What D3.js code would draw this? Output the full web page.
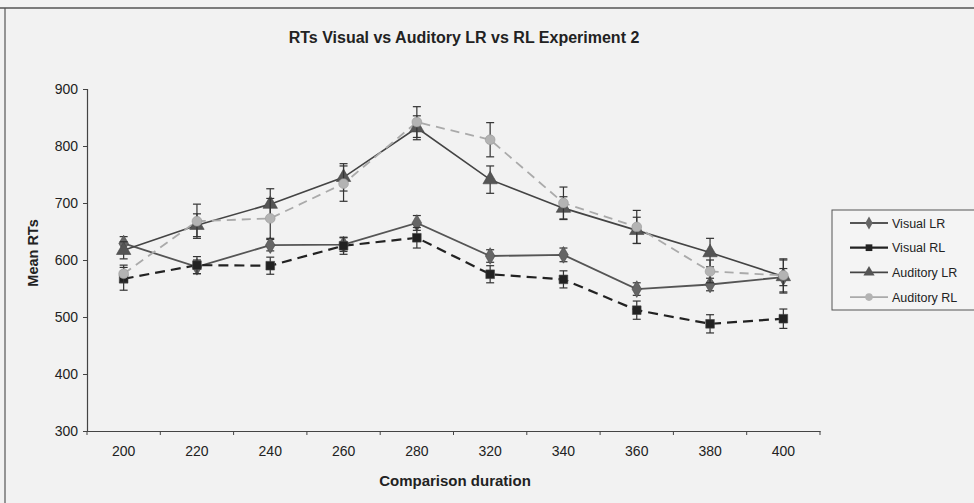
<!DOCTYPE html>
<html><head><meta charset="utf-8">
<script src="https://cdn.jsdelivr.net/npm/d3@7"></script>
<style>body{margin:0;background:#f2f2f2;} svg{display:block;font-family:Arial,"Liberation Sans",sans-serif;}</style>
</head><body><svg id="c" width="974" height="503"></svg>
<script>
const categories = ["200","220","240","260","280","320","340","360","380","400"];
const seriesNames = ["Visual LR","Visual RL","Auditory LR","Auditory RL"];
const visualLR   = [629, 588, 626, 627, 665, 607, 609, 549, 557, 570];
const visualRL   = [567, 591, 590, 625, 639, 575, 566, 512, 488, 497];
const auditoryLR = [617, 661, 698, 745, 832, 741, 691, 652, 613, 571];
const auditoryRL = [576, 668, 673, 734, 842, 811, 700, 658, 580, 573];
const errVisualLR   = [12, 12, 10, 12, 13, 11, 12, 11, 11, 15];
const errVisualRL   = [20, 15, 15, 15, 18, 15, 15, 16, 16, 17];
const errAuditoryLR = [15, 20, 27, 24, 21, 24, 20, 23, 25, 29];
const errAuditoryRL = [15, 30, 35, 31, 27, 30, 28, 29, 20, 29];
const yTicks = [300, 400, 500, 600, 700, 800, 900];

const svg = d3.select("#c");
const x = d3.scaleBand().domain(categories).range([87, 820]);
const y = d3.scaleLinear().domain([300, 900]).range([431, 89]);

// outer frame
svg.append("line").attr("x1",0).attr("x2",974).attr("y1",8).attr("y2",8).attr("stroke","#555").attr("stroke-width",1.5);
svg.append("line").attr("x1",5).attr("x2",5).attr("y1",8).attr("y2",503).attr("stroke","#555").attr("stroke-width",1.2);

// title
svg.append("text").attr("x",464).attr("y",43).attr("text-anchor","middle").attr("font-size",16).attr("font-weight","bold").attr("fill","#222")
  .text("RTs Visual vs Auditory LR vs RL Experiment 2");

// axes
const yAxis = d3.axisLeft(y).tickValues(yTicks).tickSize(4).tickPadding(5);
const gy = svg.append("g").attr("transform","translate(87,0)").call(yAxis);
const xAxis = d3.axisBottom(x).tickSize(0).tickPadding(15);
const gx = svg.append("g").attr("transform","translate(0,431)").call(xAxis);
// band-edge ticks
gx.selectAll(".edge").data(d3.range(categories.length+1)).enter().append("line")
  .attr("x1",i=>87+i*x.step()).attr("x2",i=>87+i*x.step()).attr("y1",0).attr("y2",4).attr("stroke","#444");
[gx,gy].forEach(g=>{
  g.select(".domain").attr("stroke","#444").attr("stroke-width",1.2);
  g.selectAll("line").attr("stroke","#444");
  g.selectAll("text").attr("font-size",14).attr("fill","#222").attr("font-family","Arial, 'Liberation Sans', sans-serif");
});
svg.append("text").attr("x",455).attr("y",486).attr("text-anchor","middle").attr("font-size",15).attr("font-weight","bold").attr("fill","#222").text("Comparison duration");
svg.append("text").attr("transform","translate(38,253) rotate(-90)").attr("text-anchor","middle").attr("font-size",14.5).attr("font-weight","bold").attr("fill","#222").text("Mean RTs");

const series = [
  {name:seriesNames[0], vals:visualLR, err:errVisualLR, line:"#555", width:1.8, dash:null, marker:"diamond", fill:"#666"},
  {name:seriesNames[1], vals:visualRL, err:errVisualRL, line:"#222", width:2.2, dash:"10,6", marker:"square", fill:"#222"},
  {name:seriesNames[2], vals:auditoryLR, err:errAuditoryLR, line:"#444", width:1.6, dash:null, marker:"triangle", fill:"#555"},
  {name:seriesNames[3], vals:auditoryRL, err:errAuditoryRL, line:"#aaa", width:1.8, dash:"9,6", marker:"circle", fill:"#b3b3b3"}
];
const symType = {diamond:d3.symbolDiamond, square:d3.symbolSquare, triangle:d3.symbolTriangle, circle:d3.symbolCircle};
const symSize = {diamond:80, square:75, triangle:90, circle:75};
const cx = c => x(c) + x.bandwidth()/2;

const lineGen = d3.line().x((d,i)=>cx(categories[i])).y(d=>y(d));
series.forEach(s=>{
  svg.append("path").datum(s.vals).attr("d",lineGen).attr("fill","none").attr("stroke",s.line).attr("stroke-width",s.width).attr("stroke-dasharray",s.dash);
});
series.forEach(s=>{
  const g = svg.append("g");
  s.vals.forEach((v,i)=>{
    const X = cx(categories[i]), e = s.err[i];
    g.append("line").attr("x1",X).attr("x2",X).attr("y1",y(v+e)).attr("y2",y(v-e)).attr("stroke","#333").attr("stroke-width",1.2);
    [v+e, v-e].forEach(t=>g.append("line").attr("x1",X-4).attr("x2",X+4).attr("y1",y(t)).attr("y2",y(t)).attr("stroke","#333").attr("stroke-width",1.2));
    g.append("path").attr("d",d3.symbol().type(symType[s.marker]).size(symSize[s.marker])())
      .attr("transform",`translate(${X},${y(v)})`).attr("fill",s.fill).attr("stroke",s.fill==="#b3b3b3"?"#999":"#444").attr("stroke-width",0.6);
  });
});

// legend
const lg = svg.append("g");
lg.append("rect").attr("x",832).attr("y",210).attr("width",160).attr("height",100).attr("fill","#f4f4f4").attr("stroke","#555").attr("stroke-width",1);
series.forEach((s,i)=>{
  const ly = 223 + i*24.7;
  lg.append("line").attr("x1",850).attr("x2",888).attr("y1",ly).attr("y2",ly).attr("stroke",s.line).attr("stroke-width",s.width);
  lg.append("path").attr("d",d3.symbol().type(symType[s.marker]).size(symSize[s.marker]*0.6)())
    .attr("transform",`translate(869,${ly})`).attr("fill",s.fill);
  lg.append("text").attr("x",892).attr("y",ly+4.5).attr("font-size",12.5).attr("fill","#222").text(s.name);
});
</script></body></html>
